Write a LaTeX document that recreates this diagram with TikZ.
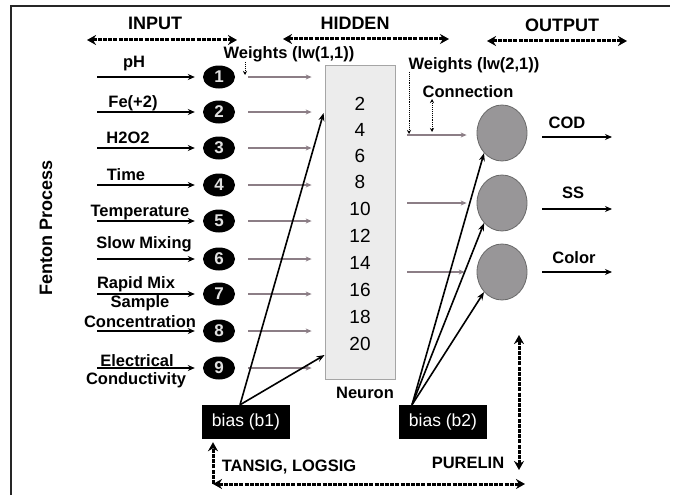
\documentclass[tikz,border=0pt]{standalone}
\usepackage{fontspec}
\setmainfont{Liberation Sans}
\usetikzlibrary{arrows.meta,shapes.geometric,calc}
\definecolor{wgray}{RGB}{140,126,134}
\definecolor{boxfill}{RGB}{236,236,236}
\definecolor{boxline}{RGB}{165,165,165}
\definecolor{ofill}{RGB}{152,150,152}
\definecolor{oline}{RGB}{105,105,105}
\begin{document}
\begin{tikzpicture}[x=1pt,y=-1pt,
 lbl/.style={font=\fontsize{16.5}{18}\selectfont\bfseries, inner sep=0pt, anchor=base},
 hdr/.style={font=\fontsize{18}{20}\selectfont\bfseries, inner sep=0pt, anchor=base},
 incirc/.style={ellipse, fill=black, minimum width=32pt, minimum height=23pt, inner sep=0pt, text=white!88!black, font=\fontsize{17}{17}\selectfont\bfseries},
 outcirc/.style={ellipse, fill=ofill, draw=oline, line width=0.8pt, minimum width=50pt, minimum height=56pt, inner sep=0pt},
 inarr/.style={line width=1.8pt, -{Stealth[length=7pt,width=6pt]}, shorten >=8pt},
 warr/.style={draw=wgray, line width=1.6pt, -{Stealth[length=6pt,width=5pt]}},
 barr/.style={line width=1.6pt, -{Stealth[length=8pt,width=6pt]}},
 outarr/.style={line width=1.8pt, -{Stealth[length=7pt,width=6pt]}},
 dasharr/.style={line width=3pt, dash pattern=on 4pt off 1.2pt, {Stealth[length=9pt,width=10pt]}-{Stealth[length=9pt,width=10pt]}},
 dashone/.style={line width=3pt, dash pattern=on 4pt off 1.2pt, -{Stealth[length=9pt,width=10pt]}},
 dotarr/.style={line width=0.9pt, densely dotted, -{Stealth[length=4pt,width=4pt]}},
 dotdbl/.style={line width=0.9pt, densely dotted, {Stealth[length=4pt,width=4pt]}-{Stealth[length=4pt,width=4pt]}},
 biasbox/.style={fill=black, text=white, minimum width=88pt, minimum height=34pt, inner sep=0pt, font=\fontsize{17.5}{17.5}\selectfont},
 numtxt/.style={font=\fontsize{19}{19}\selectfont, inner sep=0pt}
]
\fill[white] (0,0) rectangle (676,495);
\useasboundingbox (0,0) rectangle (676,495);
% frame
\draw[line width=1.5pt, black!85] (11,495) -- (11,6) -- (670,6);

% headers
\node[hdr] (tin) at (155,30) {INPUT};
\node[hdr] (thid) at (355,30) {HIDDEN};
\node[hdr] (tout) at (562,31) {OUTPUT};
\coordinate (ia1) at (87,40); \coordinate (ia2) at (237,40);
\coordinate (ha1) at (283,39); \coordinate (ha2) at (449,39);
\coordinate (oa1) at (487,41); \coordinate (oa2) at (627,41);
\draw[dasharr] (ia1) -- (ia2);
\draw[dasharr] (ha1) -- (ha2);
\draw[dasharr] (oa1) -- (oa2);

% side label
\node[font=\fontsize{18}{18}\selectfont\bfseries, rotate=90, inner sep=0pt] (fen) at (46,228) {Fenton Process};

% hidden layer box
\node[draw=boxline, fill=boxfill, line width=0.8pt, minimum width=70pt, minimum height=314pt, inner sep=0pt] (hid) at (360,222) {};
\foreach \n/\y in {2/104,4/130,6/156,8/182,10/209,12/236,14/263,16/290,18/317,20/344}
  \node[numtxt] (n\n) at (360,\y) {\n};
\node[lbl] (neu) at (365,398) {Neuron};

% input circles and arrows
\foreach \i/\y in {1/77,2/112,3/148,4/185,5/221,6/259,7/294,8/331,9/368}{
  \node[incirc] (c\i) at (219,\y) {\i};
  \coordinate (s\i) at (97,\y);
  \draw[inarr] (s\i) -- (c\i);
  \draw[warr] ($(c\i.east)+(13,0)$) -- ($(c\i.east -| hid.west)+(-13,0)$);
}

% input labels
\node[lbl] (lph) at (134,67) {pH};
\node[lbl] (lfe) at (133,107) {Fe(+2)};
\node[lbl] (lh2) at (128,143) {H2O2};
\node[lbl] (ltm) at (126,180) {Time};
\node[lbl] (lte) at (140,216) {Temperature};
\node[lbl] (lsm) at (144,248) {Slow Mixing};
\node[lbl] (lrm) at (136,288) {Rapid Mix};
\node[lbl] (lsa) at (140,307) {Sample};
\node[lbl] (lco) at (140,327) {Concentration};
\node[lbl] (lel) at (137,366) {Electrical};
\node[lbl] (lcd) at (136,384) {Conductivity};

% weights labels
\node[lbl] (w1) at (289,58) {Weights (lw(1,1))};
\coordinate (w1a) at (245,62); \coordinate (w1b) at (245,75);
\draw[dotarr] (w1a) -- (w1b);
\node[lbl] (w2) at (474,69) {Weights (lw(2,1))};
\node[lbl] (cn) at (468,97) {Connection};
\coordinate (w2a) at (409,72); \coordinate (w2b) at (409,134);
\draw[dotarr] (w2a) -- (w2b);
\coordinate (cna) at (432,99); \coordinate (cnb) at (432,132);
\draw[dotdbl] (cna) -- (cnb);

% output neurons
\node[outcirc] (o1) at (502,133) {};
\node[outcirc] (o2) at (502,203) {};
\node[outcirc] (o3) at (502,272) {};
\draw[warr] ($(hid.east |- o1)+(12,2)$) -- ($(o1.west)+(-10,2)$);
\draw[warr] ($(hid.east |- o2)+(12,0)$) -- ($(o2.west)+(-10,0)$);
\draw[warr] ($(hid.east |- o3)+(12,0)$) -- ($(o3.west)+(-12,0)$);

\coordinate (e1) at (612,137); \coordinate (e2) at (612,209); \coordinate (e3) at (612,272);
\draw[outarr] ($(o1.east)+(15,4)$) -- (e1);
\draw[outarr] ($(o2.east)+(15,6)$) -- (e2);
\draw[outarr] ($(o3.east)+(15,0)$) -- (e3);
\node[lbl] (lcod) at (567,128) {COD};
\node[lbl] (lss) at (573,198) {SS};
\node[lbl] (lcol) at (574,263) {Color};

% biases
\node[biasbox] (b1) at (246,422) {bias (b1)};
\node[biasbox] (b2) at (443,422) {bias (b2)};
\draw[barr] ($(b1.north)+(-6,0)$) -- ($(hid.west)+(-1,-109)$);
\draw[barr] ($(b1.north)+(-6,0)$) -- ($(hid.west)+(0,133)$);
\draw[barr] ($(b2.north)+(-31,0)$) -- (o1.south west);
\draw[barr] ($(b2.north)+(-31,0)$) -- (o2.south west);
\draw[barr] ($(b2.north)+(-31,0)$) -- (o3.south west);

% transfer functions
\coordinate (bl) at (213,484); \coordinate (br) at (525,484);
\draw[dashone] (bl) -- ($(b1.south -| bl)+(0,3)$);
\draw[dasharr] (bl) -- (br);
\coordinate (rt) at (519,335); \coordinate (rb) at (519,470);
\draw[dasharr] (rt) -- (rb);
\node[lbl] (tan) at (289,471) {TANSIG, LOGSIG};
\node[lbl] (pur) at (468,468) {PURELIN};
\end{tikzpicture}
\end{document}
